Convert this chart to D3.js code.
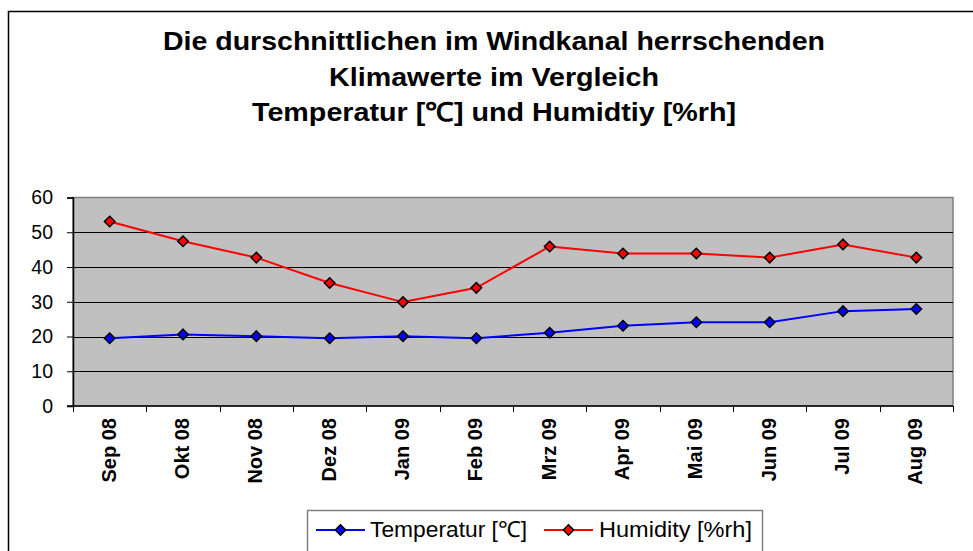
<!DOCTYPE html>
<html>
<head>
<meta charset="utf-8">
<script src="https://cdn.jsdelivr.net/npm/d3@7"></script>
<style>
  html, body { margin: 0; padding: 0; background: #fff; }
  svg { display: block; font-family: "Liberation Sans", Arial, sans-serif; }
</style>
</head>
<body>
<svg id="chart" width="973" height="551"></svg>
<script>
// Monthly averages measured in the wind tunnel
const months = ["Sep 08", "Okt 08", "Nov 08", "Dez 08", "Jan 09", "Feb 09",
                "Mrz 09", "Apr 09", "Mai 09", "Jun 09", "Jul 09", "Aug 09"];
const temperatur = [19.5, 20.6, 20.1, 19.5, 20.1, 19.5, 21.1, 23.1, 24.1, 24.1, 27.3, 27.9];
const humidity   = [53.1, 47.4, 42.7, 35.4, 29.9, 34.0, 45.9, 43.9, 43.9, 42.7, 46.5, 42.7];
const yTicks = [0, 10, 20, 30, 40, 50, 60];
const titleLines = [
  "Die durschnittlichen im Windkanal herrschenden",
  "Klimawerte im Vergleich",
  "Temperatur [\u2103] und Humidtiy [%rh]"
];
const seriesNames = ["Temperatur [\u2103]", "Humidity [%rh]"];

const series = [
  { name: seriesNames[0], values: temperatur, color: "#0000FF", marker: "#0000FF" },
  { name: seriesNames[1], values: humidity,   color: "#FF0000", marker: "#FF0000" }
];

const svg = d3.select("#chart");

// Outer chart frame (continues past the right and bottom edges)
svg.append("rect")
  .attr("x", 8.5).attr("y", 11.5)
  .attr("width", 1000).attr("height", 600)
  .attr("fill", "#fff").attr("stroke", "#000").attr("stroke-width", 1.5);

// Title: three centred bold lines, stretched slightly wide
const titleWidths = [662, 330, 484];
const title = svg.append("g").attr("font-weight", "bold").attr("font-size", 26)
  .attr("text-anchor", "middle").attr("fill", "#000");
titleLines.forEach((t, i) => {
  title.append("text")
    .attr("x", 494).attr("y", 50 + i * 35.5)
    .attr("textLength", titleWidths[i])
    .attr("lengthAdjust", "spacingAndGlyphs")
    .text(t);
});

// Plot area
const plot = { left: 73, right: 953, top: 197.5, bottom: 406 };

const x = d3.scaleBand().domain(months).range([plot.left, plot.right]).padding(0);
const y = d3.scaleLinear().domain([0, 60]).range([plot.bottom, plot.top]);

svg.append("rect")
  .attr("x", plot.left).attr("y", plot.top)
  .attr("width", plot.right - plot.left).attr("height", plot.bottom - plot.top)
  .attr("fill", "#C0C0C0").attr("stroke", "#808080").attr("stroke-width", 1.5);

// Horizontal gridlines
svg.append("g")
  .selectAll("line")
  .data(yTicks.filter(v => v > 0 && v < 60))
  .join("line")
  .attr("x1", plot.left).attr("x2", plot.right)
  .attr("y1", d => Math.round(y(d)) + 0.5).attr("y2", d => Math.round(y(d)) + 0.5)
  .attr("stroke", "#000").attr("stroke-width", 1);

// Y axis
const yAxis = svg.append("g")
  .attr("transform", `translate(${plot.left},0)`)
  .call(d3.axisLeft(y).tickValues(yTicks).tickSize(6).tickPadding(14).tickFormat(d3.format("d")));
yAxis.select(".domain").attr("stroke", "#000").attr("stroke-width", 1.5);
yAxis.selectAll(".tick line").attr("stroke", "#000").attr("stroke-width", 1);
yAxis.selectAll(".tick text")
  .attr("font-size", 19.5).attr("fill", "#000")
  .attr("font-family", "Liberation Sans, Arial, sans-serif");

// X axis: ticks sit on category boundaries
const boundaries = months.map(m => x(m)).concat([plot.right]);
const xAxisG = svg.append("g");
xAxisG.append("line")
  .attr("x1", plot.left - 6).attr("x2", plot.right)
  .attr("y1", plot.bottom).attr("y2", plot.bottom)
  .attr("stroke", "#000").attr("stroke-width", 1.5);
xAxisG.selectAll("line.tick")
  .data(boundaries)
  .join("line")
  .attr("class", "tick")
  .attr("x1", d => Math.round(d) + 0.5).attr("x2", d => Math.round(d) + 0.5)
  .attr("y1", plot.bottom).attr("y2", plot.bottom + 6)
  .attr("stroke", "#000").attr("stroke-width", 1);
xAxisG.selectAll("text")
  .data(months)
  .join("text")
  .attr("transform", d => `translate(${x(d) + x.bandwidth() / 2 + 6},${plot.bottom + 12}) rotate(-90)`)
  .attr("text-anchor", "end")
  .attr("font-weight", "bold")
  .attr("font-size", 20)
  .attr("fill", "#000")
  .text(d => d);

// Series lines and markers
const line = d3.line()
  .x((d, i) => x(months[i]) + x.bandwidth() / 2)
  .y(d => y(d));

const diamond = d3.symbol().type(d3.symbolDiamond2).size(70);

series.forEach(s => {
  svg.append("path")
    .datum(s.values)
    .attr("d", line)
    .attr("fill", "none")
    .attr("stroke", s.color)
    .attr("stroke-width", 2);
  svg.append("g")
    .selectAll("path")
    .data(s.values)
    .join("path")
    .attr("transform", (d, i) => `translate(${x(months[i]) + x.bandwidth() / 2},${y(d)})`)
    .attr("d", diamond)
    .attr("fill", s.marker)
    .attr("stroke", "#000")
    .attr("stroke-width", 1.5);
});

// Legend
const legend = svg.append("g");
legend.append("rect")
  .attr("x", 307.5).attr("y", 510.5)
  .attr("width", 455).attr("height", 60)
  .attr("fill", "#fff").attr("stroke", "#808080").attr("stroke-width", 1.5);

const legendItems = [
  { s: series[0], x0: 316, tx: 370, w: 157 },
  { s: series[1], x0: 544, tx: 599, w: 153 }
];
legendItems.forEach(it => {
  legend.append("line")
    .attr("x1", it.x0).attr("x2", it.x0 + 49)
    .attr("y1", 530).attr("y2", 530)
    .attr("stroke", it.s.color).attr("stroke-width", 2);
  legend.append("path")
    .attr("transform", `translate(${it.x0 + 24.5},530)`)
    .attr("d", diamond)
    .attr("fill", it.s.marker)
    .attr("stroke", "#000")
    .attr("stroke-width", 1.5);
  legend.append("text")
    .attr("x", it.tx).attr("y", 537)
    .attr("font-size", 22)
    .attr("textLength", it.w)
    .attr("lengthAdjust", "spacingAndGlyphs")
    .attr("fill", "#000")
    .text(it.s.name);
});
</script>
</body>
</html>
